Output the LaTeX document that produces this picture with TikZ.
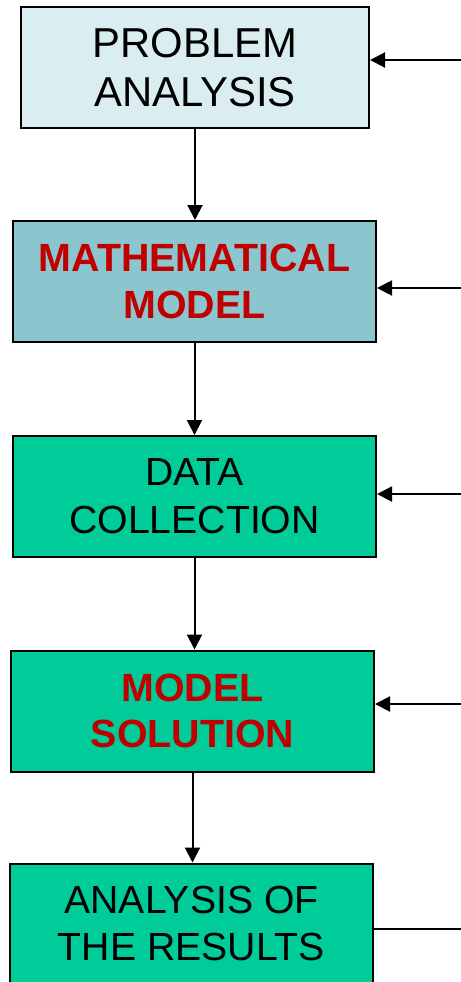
\documentclass[tikz,border=0pt]{standalone}
\usepackage{fontspec}
\setmainfont{Liberation Sans}
\usetikzlibrary{arrows.meta}
\tikzset {>={Triangle[length=3mm,width=3mm]}}
\definecolor{paleblue}{HTML}{DAEDF0}
\definecolor{tealblue}{HTML}{8BC6CE}
\definecolor{seagreen}{HTML}{00CC99}
\definecolor{darkred}{HTML}{C00000}
\tikzset{
  stage/.style={draw,line width=0.4mm,minimum width=72.6mm,minimum height=24.2mm,
    align=center,inner sep=0pt,font=\fontsize{22.3}{27.2}\selectfont},
  keystage/.style={stage,text=darkred,font=\fontsize{22.4}{26.6}\selectfont\bfseries},
  link/.style={->,line width=0.4mm}
}

\begin{document}
\begin{tikzpicture}[x=0.2mm,y=-0.2mm]
\useasboundingbox (0,0) rectangle (461,982);
\clip (0,0) rectangle (461,982);
\node[stage,fill=paleblue,minimum width=69.6mm,font=\fontsize{23.8}{27.8}\selectfont] (problem) at (195,67.5) {PROBLEM\\ANALYSIS};
\node[keystage,fill=tealblue] (model) at (194.5,281.5) {MATHEMATICAL\\MODEL};
\node[stage,fill=seagreen] (data) at (194.5,496.5) {DATA\\COLLECTION};
\node[keystage,fill=seagreen] (solution) at (192.5,711) {MODEL\\SOLUTION};
\node[stage,fill=seagreen,minimum height=24mm] (results) at (191.5,923.5) {ANALYSIS OF\\THE RESULTS};
% downward flow
\draw[link] (problem.south) -- (problem.south |- model.north);
\draw[link] (model.south) -- (model.south |- data.north);
\draw[link] (data.south) -- (data.south |- solution.north);
\draw[link] (solution.south) -- (solution.south |- results.north);
% feedback from the right
\coordinate (in1) at (461,60);
\coordinate (in2) at (461,288);
\coordinate (in3) at (461,494);
\coordinate (in4) at (461,704);
\coordinate (out) at (461,929);
\draw[link] (in1) -- (problem.east |- in1);
\draw[link] (in2) -- (model.east |- in2);
\draw[link] (in3) -- (data.east |- in3);
\draw[link] (in4) -- (solution.east |- in4);
\draw[line width=0.4mm] (results.east |- out) -- (out);
\end{tikzpicture}
\end{document}
